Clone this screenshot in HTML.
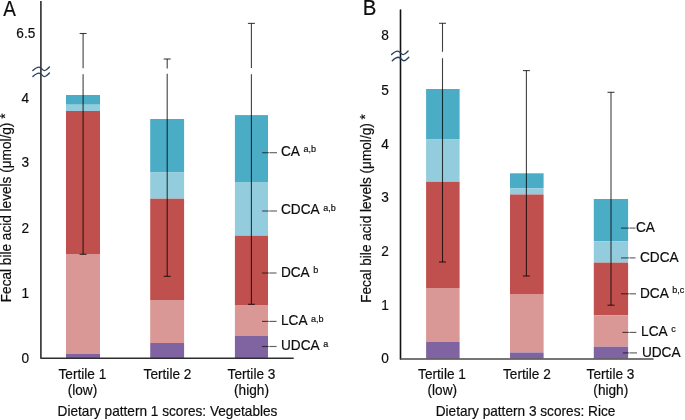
<!DOCTYPE html>
<html><head><meta charset="utf-8"><style>
html,body{margin:0;padding:0;background:#fff;width:685px;height:420px;overflow:hidden}
svg{display:block;will-change:transform;font-family:"Liberation Sans",sans-serif}
text{fill:#0d0d0d;stroke:#0d0d0d;stroke-width:0.18}
.ax{fill:none;stroke:#2e2e2e;stroke-width:1.6;stroke-linejoin:round}
.ax2{fill:none;stroke:#111;stroke-width:1.6;stroke-linecap:round}
.ax3{fill:none;stroke:#4a4a4a;stroke-width:1.5;stroke-linecap:round}
.e{stroke:#000;stroke-width:1.1;stroke-opacity:0.75}
.g{stroke:#fff;stroke-opacity:0.6;stroke-width:1.6}
.l{stroke:#000;stroke-opacity:0.62;stroke-width:1.15}
.w{fill:none;stroke:#26405E;stroke-width:1.4;stroke-linecap:round}
</style></head><body>
<svg width="685" height="420" viewBox="0 0 685 420">
<text transform="translate(3.3 15.7) scale(0.91 1.04)" font-size="20.8">A</text>
<text transform="translate(35.3 38.4) scale(1 1.07)" text-anchor="end" font-size="13.65" >6.5</text>
<text transform="translate(29.2 103.2) scale(1 1.07)" text-anchor="end" font-size="13.65" >4</text>
<text transform="translate(29.2 167.1) scale(1 1.07)" text-anchor="end" font-size="13.65" >3</text>
<text transform="translate(29.2 232.7) scale(1 1.07)" text-anchor="end" font-size="13.65" >2</text>
<text transform="translate(29.2 297.7) scale(1 1.07)" text-anchor="end" font-size="13.65" >1</text>
<text transform="translate(29.2 362.7) scale(1 1.07)" text-anchor="end" font-size="13.65" >0</text>
<text transform="translate(10.8 302.2) rotate(-90) scale(1 1.02)" font-size="13.62">Fecal bile acid levels (&#956;mol/g) <tspan dy="-0.8">*</tspan></text>
<rect x="66" y="95" width="34" height="9.7" fill="#4BACC6"/><rect x="66" y="104.7" width="34" height="6.3" fill="#93CDDD"/><rect x="66" y="111" width="34" height="143" fill="#C0504D"/><rect x="66" y="254" width="34" height="100" fill="#D99795"/><rect x="66" y="354" width="34" height="4" fill="#8064A2"/>
<rect x="150.2" y="119" width="33.9" height="53.5" fill="#4BACC6"/><rect x="150.2" y="172.5" width="33.9" height="26.2" fill="#93CDDD"/><rect x="150.2" y="198.7" width="33.9" height="101.3" fill="#C0504D"/><rect x="150.2" y="300" width="33.9" height="43" fill="#D99795"/><rect x="150.2" y="343" width="33.9" height="15" fill="#8064A2"/>
<rect x="234.9" y="115.1" width="33.1" height="66.9" fill="#4BACC6"/><rect x="234.9" y="182" width="33.1" height="53.7" fill="#93CDDD"/><rect x="234.9" y="235.7" width="33.1" height="69.3" fill="#C0504D"/><rect x="234.9" y="305" width="33.1" height="30.7" fill="#D99795"/><rect x="234.9" y="335.7" width="33.1" height="22.3" fill="#8064A2"/>
<line x1="83.1" y1="33.5" x2="83.1" y2="68.2" class="e"/><line x1="83.1" y1="74.2" x2="83.1" y2="254.3" class="e"/><line x1="79.6" y1="33.5" x2="86.6" y2="33.5" class="e"/><line x1="79.6" y1="254.3" x2="86.6" y2="254.3" class="e"/>
<line x1="167.2" y1="59" x2="167.2" y2="68.5" class="e"/><line x1="167.2" y1="73.8" x2="167.2" y2="276.3" class="e"/><line x1="163.7" y1="59" x2="170.7" y2="59" class="e"/><line x1="163.7" y1="276.3" x2="170.7" y2="276.3" class="e"/>
<line x1="251.4" y1="23.4" x2="251.4" y2="68" class="e"/><line x1="251.4" y1="74.3" x2="251.4" y2="304.3" class="e"/><line x1="247.9" y1="23.4" x2="254.9" y2="23.4" class="e"/><line x1="247.9" y1="304.3" x2="254.9" y2="304.3" class="e"/>
<path d="M40.9 1 V358.2 H293.7" class="ax"/>
<path d="M32.9 70.6 C35.3 68.3 36.9 67.1 39.0 67.1 C41.199999999999996 67.1 42.5 70.6 44.599999999999994 70.6 C46.3 70.6 47.9 68.6 49.4 67.1" class="w"/>
<path d="M32.9 76.6 C35.3 74.3 36.9 73.1 39.0 73.1 C41.199999999999996 73.1 42.5 76.6 44.599999999999994 76.6 C46.3 76.6 47.9 74.6 49.4 73.1" class="w"/>
<line x1="262.2" y1="152.7" x2="277" y2="152.7" class="l"/><line x1="268.8" y1="152.7" x2="269.7" y2="152.7" class="g"/><text transform="translate(281 155.9) scale(1 1.07)" font-size="13.65">CA<tspan font-size="9" dx="3.5" dy="-3.2">a,b</tspan></text>
<line x1="262.2" y1="211" x2="277" y2="211" class="l"/><line x1="268.8" y1="211" x2="269.7" y2="211" class="g"/><text transform="translate(281 214.2) scale(1 1.07)" font-size="13.65">CDCA<tspan font-size="9" dx="3.5" dy="-3.2">a,b</tspan></text>
<line x1="262" y1="273" x2="276.5" y2="273" class="l"/><line x1="268.8" y1="273" x2="269.7" y2="273" class="g"/><text transform="translate(280.9 276.8) scale(1 1.07)" font-size="13.65">DCA<tspan font-size="9" dx="3.5" dy="-3.2">b</tspan></text>
<line x1="262" y1="321.4" x2="276.5" y2="321.4" class="l"/><line x1="268.8" y1="321.4" x2="269.7" y2="321.4" class="g"/><text transform="translate(281 325.2) scale(1 1.07)" font-size="13.65">LCA<tspan font-size="9" dx="3.5" dy="-3.2">a,b</tspan></text>
<line x1="262" y1="346.5" x2="276.6" y2="346.5" class="l"/><line x1="268.8" y1="346.5" x2="269.7" y2="346.5" class="g"/><text transform="translate(281 350.3) scale(1 1.07)" font-size="13.65">UDCA<tspan font-size="9" dx="3.5" dy="-3.2">a</tspan></text>
<text transform="translate(82.4 379.4) scale(1 1.07)" text-anchor="middle" font-size="13.65" >Tertile 1</text>
<text transform="translate(82.4 395.1) scale(1 1.07)" text-anchor="middle" font-size="13.65" >(low)</text>
<text transform="translate(167.5 379.4) scale(1 1.07)" text-anchor="middle" font-size="13.65" >Tertile 2</text>
<text transform="translate(251.5 379.4) scale(1 1.07)" text-anchor="middle" font-size="13.65" >Tertile 3</text>
<text transform="translate(251.5 395.1) scale(1 1.07)" text-anchor="middle" font-size="13.65" >(high)</text>
<text transform="translate(167.5 416) scale(1 1.07)" text-anchor="middle" font-size="13.65" >Dietary pattern 1 scores: Vegetables</text>
<text transform="translate(362.7 14.9) scale(1 1.07)" text-anchor="start" font-size="20.4" >B</text>
<text transform="translate(388.8 40.4) scale(1 1.07)" text-anchor="end" font-size="13.65" >8</text>
<text transform="translate(388.8 94.9) scale(1 1.07)" text-anchor="end" font-size="13.65" >5</text>
<text transform="translate(388.8 148.8) scale(1 1.07)" text-anchor="end" font-size="13.65" >4</text>
<text transform="translate(388.8 202.3) scale(1 1.07)" text-anchor="end" font-size="13.65" >3</text>
<text transform="translate(388.8 255.8) scale(1 1.07)" text-anchor="end" font-size="13.65" >2</text>
<text transform="translate(388.8 309.5) scale(1 1.07)" text-anchor="end" font-size="13.65" >1</text>
<text transform="translate(388.8 363.3) scale(1 1.07)" text-anchor="end" font-size="13.65" >0</text>
<text transform="translate(370.6 302.8) rotate(-90) scale(1 1.02)" font-size="13.62">Fecal bile acid levels (&#956;mol/g) <tspan dy="-0.8">*</tspan></text>
<rect x="426.1" y="89" width="33.5" height="50.1" fill="#4BACC6"/><rect x="426.1" y="139.1" width="33.5" height="42.7" fill="#93CDDD"/><rect x="426.1" y="181.8" width="33.5" height="106.2" fill="#C0504D"/><rect x="426.1" y="288" width="33.5" height="54" fill="#D99795"/><rect x="426.1" y="342" width="33.5" height="16.5" fill="#8064A2"/>
<rect x="510" y="173.3" width="33.6" height="14.9" fill="#4BACC6"/><rect x="510" y="188.2" width="33.6" height="6.3" fill="#93CDDD"/><rect x="510" y="194.5" width="33.6" height="99.5" fill="#C0504D"/><rect x="510" y="294" width="33.6" height="58.5" fill="#D99795"/><rect x="510" y="352.5" width="33.6" height="6.0" fill="#8064A2"/>
<rect x="593.8" y="199" width="34.3" height="42.2" fill="#4BACC6"/><rect x="593.8" y="241.2" width="34.3" height="21.4" fill="#93CDDD"/><rect x="593.8" y="262.6" width="34.3" height="52.6" fill="#C0504D"/><rect x="593.8" y="315.2" width="34.3" height="31.5" fill="#D99795"/><rect x="593.8" y="346.7" width="34.3" height="11.8" fill="#8064A2"/>
<line x1="442.5" y1="23.3" x2="442.5" y2="51.8" class="e"/><line x1="442.5" y1="58.2" x2="442.5" y2="262" class="e"/><line x1="439.0" y1="23.3" x2="446.0" y2="23.3" class="e"/><line x1="439.0" y1="262" x2="446.0" y2="262" class="e"/>
<line x1="526.4" y1="70.6" x2="526.4" y2="276" class="e"/><line x1="522.9" y1="70.6" x2="529.9" y2="70.6" class="e"/><line x1="522.9" y1="276" x2="529.9" y2="276" class="e"/>
<line x1="611" y1="92.3" x2="611" y2="305.2" class="e"/><line x1="607.5" y1="92.3" x2="614.5" y2="92.3" class="e"/><line x1="607.5" y1="305.2" x2="614.5" y2="305.2" class="e"/>
<path d="M400.5 10 V358.9" class="ax2"/><path d="M400.5 358.9 H653" class="ax3"/>
<path d="M391.6 54.6 C394 52.300000000000004 395.6 51.1 397.7 51.1 C399.9 51.1 401.2 54.6 403.3 54.6 C405 54.6 406.6 52.6 408.1 51.1" class="w"/>
<path d="M392.3 60.7 C394.7 58.400000000000006 396.3 57.2 398.4 57.2 C400.59999999999997 57.2 401.9 60.7 404.0 60.7 C405.7 60.7 407.3 58.7 408.8 57.2" class="w"/>
<line x1="621" y1="228.1" x2="635.5" y2="228.1" class="l"/><line x1="628.9" y1="228.1" x2="629.8000000000001" y2="228.1" class="g"/><text transform="translate(636 231.8) scale(1 1.07)" font-size="13.65">CA</text>
<line x1="621" y1="257.9" x2="635.5" y2="257.9" class="l"/><line x1="628.9" y1="257.9" x2="629.8000000000001" y2="257.9" class="g"/><text transform="translate(640 261.9) scale(1 1.07)" font-size="13.65">CDCA</text>
<line x1="621" y1="293.8" x2="636" y2="293.8" class="l"/><line x1="628.9" y1="293.8" x2="629.8000000000001" y2="293.8" class="g"/><text transform="translate(640 298.1) scale(1 1.07)" font-size="13.65">DCA<tspan font-size="9" dx="3.5" dy="-4.7">b,c</tspan></text>
<line x1="622.4" y1="332.4" x2="636.4" y2="332.4" class="l"/><line x1="628.9" y1="332.4" x2="629.8000000000001" y2="332.4" class="g"/><text transform="translate(641.1 336.3) scale(1 1.07)" font-size="13.65">LCA<tspan font-size="9" dx="3.5" dy="-4.2">c</tspan></text>
<line x1="622.9" y1="352.9" x2="637" y2="352.9" class="l"/><line x1="628.9" y1="352.9" x2="629.8000000000001" y2="352.9" class="g"/><text transform="translate(641.9 356.7) scale(1 1.07)" font-size="13.65">UDCA</text>
<text transform="translate(442.0 379.4) scale(1 1.07)" text-anchor="middle" font-size="13.65" >Tertile 1</text>
<text transform="translate(442.3 395.4) scale(1 1.07)" text-anchor="middle" font-size="13.65" >(low)</text>
<text transform="translate(526.9000000000001 379.4) scale(1 1.07)" text-anchor="middle" font-size="13.65" >Tertile 2</text>
<text transform="translate(610.5 379.4) scale(1 1.07)" text-anchor="middle" font-size="13.65" >Tertile 3</text>
<text transform="translate(610.8 395.4) scale(1 1.07)" text-anchor="middle" font-size="13.65" >(high)</text>
<text transform="translate(525.5 416) scale(1 1.07)" text-anchor="middle" font-size="13.65" >Dietary pattern 3 scores: Rice</text>
</svg>
</body></html>
